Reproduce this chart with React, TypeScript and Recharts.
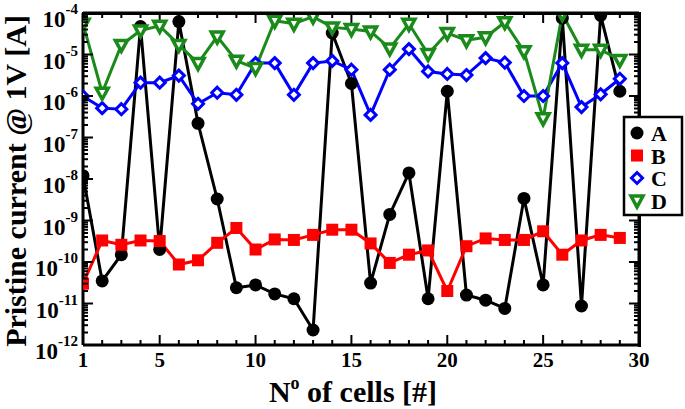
import { LineChart, Line, XAxis, YAxis, ReferenceLine } from "recharts";

const FONT = "'Liberation Serif', 'Times New Roman', serif";
const GREEN = "#1a8a1a";

const cells = [1, 2, 3, 4, 5, 6, 7, 8, 9, 10, 11, 12, 13, 14, 15, 16, 17, 18, 19, 20, 21, 22, 23, 24, 25, 26, 27, 28, 29];

const seriesA = [
  1.2e-8, 3.5e-11, 1.5e-10, 4.7e-5, 2e-10, 6.2e-5, 2.2e-7, 3.3e-9, 2.4e-11, 2.8e-11,
  1.7e-11, 1.3e-11, 2.3e-12, 3.3e-5, 2e-6, 3.1e-11, 1.4e-9, 1.4e-8, 1.3e-11, 1.3e-6,
  1.6e-11, 1.2e-11, 7.6e-12, 3.4e-9, 2.8e-11, 7.5e-5, 8.7e-12, 8.8e-5, 1.3e-6,
];
const seriesB = [
  3e-11, 3.3e-10, 2.6e-10, 3.3e-10, 3.2e-10, 8.7e-11, 1.1e-10, 2.9e-10, 6.6e-10, 2e-10,
  3.5e-10, 3.4e-10, 4.5e-10, 6e-10, 6e-10, 2.8e-10, 9.5e-11, 1.5e-10, 1.9e-10, 2e-11,
  2.4e-10, 3.7e-10, 3.4e-10, 3.4e-10, 5.5e-10, 1.5e-10, 3.3e-10, 4.5e-10, 3.8e-10,
];
const seriesC = [
  9.8e-7, 5.1e-7, 4.8e-7, 2.1e-6, 2.1e-6, 3.1e-6, 6.5e-7, 1.2e-6, 1.07e-6, 6.2e-6,
  6.2e-6, 1.07e-6, 6.2e-6, 7e-6, 4.3e-6, 3.5e-7, 4.3e-6, 1.35e-5, 3.9e-6, 3.4e-6,
  3.2e-6, 8.2e-6, 6.4e-6, 1e-6, 1e-6, 6.2e-6, 5.4e-7, 1.1e-6, 2.6e-6,
];
const seriesD = [
  5.5e-5, 1.2e-6, 1.7e-5, 3.8e-5, 4.9e-5, 1.7e-5, 6.2e-6, 2.7e-5, 7.1e-6, 4.7e-6,
  6.5e-5, 5.5e-5, 8.2e-5, 4.5e-5, 4.1e-5, 3.6e-5, 1.4e-5, 5.5e-5, 1.03e-5, 3.3e-5,
  2.2e-5, 2.6e-5, 6e-5, 1.2e-5, 2.9e-7, 9.5e-5, 1.3e-5, 1.3e-5, 7.4e-6,
];

const decadeTicks = [1e-12, 1e-11, 1e-10, 1e-9, 1e-8, 1e-7, 1e-6, 1e-5, 1e-4];
const minorSteps = [2, 3, 4, 5, 6, 7, 8, 9];
const xTicks = [1, 2, 3, 4, 5, 6, 7, 8, 9, 10, 11, 12, 13, 14, 15, 16, 17, 18, 19, 20, 21, 22, 23, 24, 25, 26, 27, 28, 29, 30];
const xLabels = [1, 5, 10, 15, 20, 25, 30];

const data = cells.map((c, i) => ({ cell: c, A: seriesA[i], B: seriesB[i], C: seriesC[i], D: seriesD[i] }));

const yTicks = [
  ...decadeTicks,
  ...decadeTicks.slice(0, -1).flatMap((d) => minorSteps.map((k) => d * k)),
];

// plot frame (from margins / axis sizes below)
const PL = 83;
const PR = 639;
const PT = 13;
const PB = 345;
const PX_PER_CELL = (PR - PL) / 29;
const PX_PER_DECADE = (PB - PT) / 8;

const isDecade = (v: number) => Math.abs(Math.log10(v) - Math.round(Math.log10(v))) < 1e-6;

const LeftTick = (props: any) => {
  const { x, y, payload } = props;
  const major = isDecade(payload.value);
  const exp = Math.round(Math.log10(payload.value));
  return (
    <g>
      <line x1={x} x2={x + (major ? 10 : 5)} y1={y} y2={y} stroke="#000" strokeWidth={2} />
      {major && (
        <text x={x - 5} y={y + 14} textAnchor="end" fontFamily={FONT} fontWeight="bold" fill="#000">
          <tspan fontSize={23}>10</tspan>
          <tspan fontSize={15} dy={-13}>{exp}</tspan>
        </text>
      )}
    </g>
  );
};

const BottomTick = (props: any) => {
  const { x, y, payload } = props;
  const major = payload.value % 5 === 0;
  return (
    <g>
      <line x1={x} x2={x} y1={y} y2={y - (major ? 10 : 5)} stroke="#000" strokeWidth={2} />
      {xLabels.includes(payload.value) && (
        <text x={x} y={y + 22} textAnchor="middle" fontFamily={FONT} fontWeight="bold" fontSize={21} fill="#000">
          {payload.value}
        </text>
      )}
    </g>
  );
};

const circleDot = (p: any) => <circle key={`a${p.index}`} cx={p.cx} cy={p.cy} r={6.5} fill="#000" />;
const squareDot = (p: any) => <rect key={`b${p.index}`} x={p.cx - 6} y={p.cy - 6} width={12} height={12} fill="#f00" />;
const diamondDot = (p: any) => (
  <polygon
    key={`c${p.index}`}
    points={`${p.cx},${p.cy - 5.5} ${p.cx + 5.5},${p.cy} ${p.cx},${p.cy + 5.5} ${p.cx - 5.5},${p.cy}`}
    fill="#fff"
    stroke="#00f"
    strokeWidth={3}
  />
);
const triangleDot = (p: any) => (
  <polygon
    key={`d${p.index}`}
    points={`${p.cx - 6},${p.cy - 4.5} ${p.cx + 6},${p.cy - 4.5} ${p.cx},${p.cy + 6.5}`}
    fill="#fff"
    stroke={GREEN}
    strokeWidth={3.5}
  />
);

const legendItems = [
  { name: "A", dot: circleDot },
  { name: "B", dot: squareDot },
  { name: "C", dot: diamondDot },
  { name: "D", dot: triangleDot },
];

export default function App() {
  return (
    <div style={{ position: "absolute", left: 0, top: 0, width: 685, height: 409, background: "#fff" }}>
      <LineChart width={685} height={409} data={data} margin={{ top: PT, right: 685 - PR, bottom: 0, left: 0 }}>
        <XAxis
          dataKey="cell"
          type="number"
          domain={[1, 30]}
          ticks={xTicks}
          interval={0}
          height={409 - PB}
          tickSize={0}
          tickMargin={0}
          tick={<BottomTick />}
          tickLine={false}
          axisLine={{ stroke: "#000", strokeWidth: 3 }}
          allowDataOverflow
        />
        <YAxis
          scale="log"
          type="number"
          domain={[1e-12, 1e-4]}
          ticks={yTicks}
          interval={0}
          width={PL}
          tickSize={0}
          tickMargin={0}
          tick={<LeftTick />}
          tickLine={false}
          axisLine={{ stroke: "#000", strokeWidth: 3 }}
          allowDataOverflow
        />
        {/* mirrored top / right axes: frame lines and inward ticks */}
        <ReferenceLine y={1e-4} stroke="#000" strokeWidth={3} ifOverflow="visible" />
        <ReferenceLine x={30} stroke="#000" strokeWidth={3} ifOverflow="visible" />
        {xTicks.map((t) => (
          <ReferenceLine
            key={`tt${t}`}
            segment={[
              { x: t, y: 1e-4 },
              { x: t, y: 1e-4 / Math.pow(10, (t % 5 === 0 ? 10 : 5) / PX_PER_DECADE) },
            ]}
            stroke="#000"
            strokeWidth={2}
            ifOverflow="visible"
          />
        ))}
        {yTicks.map((t, i) => (
          <ReferenceLine
            key={`rt${i}`}
            segment={[
              { x: 30, y: t },
              { x: 30 - (isDecade(t) ? 10 : 5) / PX_PER_CELL, y: t },
            ]}
            stroke="#000"
            strokeWidth={2}
            ifOverflow="visible"
          />
        ))}
        <Line type="linear" dataKey="A" stroke="#000" strokeWidth={3} dot={circleDot} activeDot={false} isAnimationActive={false} />
        <Line type="linear" dataKey="B" stroke="#f00" strokeWidth={3} dot={squareDot} activeDot={false} isAnimationActive={false} />
        <Line type="linear" dataKey="C" stroke="#00f" strokeWidth={3} dot={diamondDot} activeDot={false} isAnimationActive={false} />
        <Line type="linear" dataKey="D" stroke={GREEN} strokeWidth={3} dot={triangleDot} activeDot={false} isAnimationActive={false} />
      </LineChart>
      {/* frame fallback as plain HTML borders */}
      <div
        style={{
          position: "absolute",
          left: PL - 1.5,
          top: PT - 1.5,
          width: PR - PL,
          height: PB - PT,
          borderTop: "3px solid #000",
          borderRight: "3px solid #000",
          pointerEvents: "none",
        }}
      />
      <svg width={685} height={409} style={{ position: "absolute", left: 0, top: 0, pointerEvents: "none" }}>
        <text
          transform="translate(26,181) rotate(-90)"
          textAnchor="middle"
          fontFamily={FONT}
          fontWeight="bold"
          fontSize={30}
          fill="#000"
        >
          Pristine current @ 1V [A]
        </text>
        <text x={353} y={402} textAnchor="middle" fontFamily={FONT} fontWeight="bold" fontSize={30} fill="#000">
          N
          <tspan fontSize={18} dy={-13}>o</tspan>
          <tspan dy={13}> of cells [#]</tspan>
        </text>
        <rect x={624} y={117} width={58} height={98} fill="#fff" stroke="#000" strokeWidth={2.5} />
        {legendItems.map((item, i) => {
          const cy = 133 + i * 22.5;
          return (
            <g key={item.name}>
              {item.dot({ cx: 637, cy, index: `l${i}` })}
              <text x={651} y={cy + 8} fontFamily={FONT} fontWeight="bold" fontSize={22} fill="#000">
                {item.name}
              </text>
            </g>
          );
        })}
      </svg>
    </div>
  );
}
